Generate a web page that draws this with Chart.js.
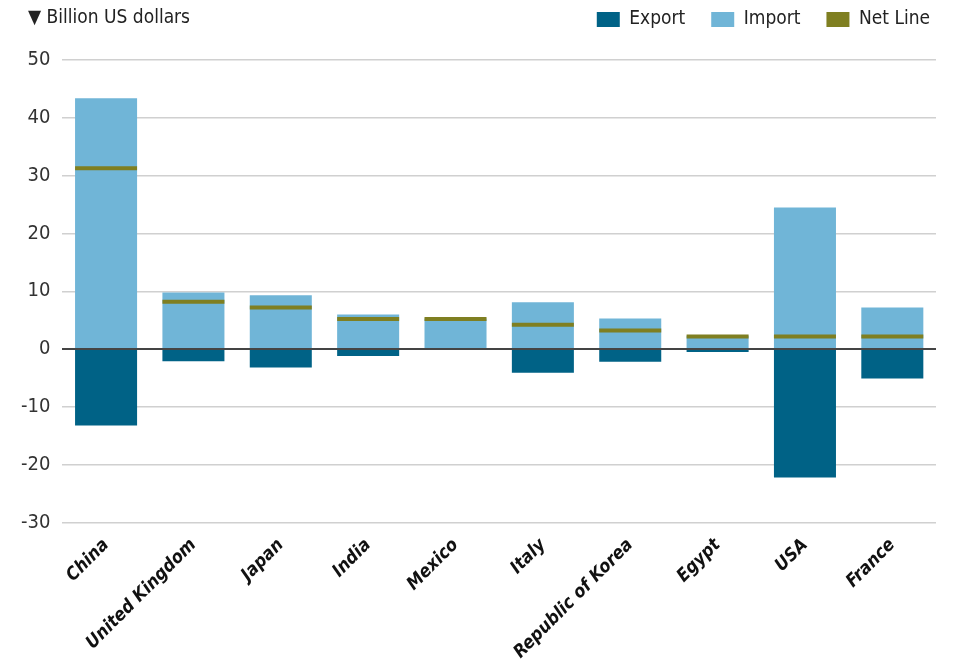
<!DOCTYPE html>
<html lang="en">
<head>
    <meta charset="UTF-8">
    <title>Trade by country</title>
    <script src="https://cdn.jsdelivr.net/npm/chart.js"></script>
    <style>
        body { margin: 0; background: #fff; }
        #wrap { width: 956px; height: 667px; }
    </style>
</head>
<body>
    <div id="wrap"><canvas id="chart"></canvas></div>
    <script>
        const countries = ["China", "United Kingdom", "Japan", "India", "Mexico", "Italy", "Republic of Korea", "Egypt", "USA", "France"];
        const exportVals = [-13.2, -2.1, -3.2, -1.2, 0, -4.1, -2.2, -0.5, -22.2, -5.1];
        const importVals = [43.4, 9.8, 9.3, 6.0, 5.3, 8.1, 5.3, 2.3, 24.5, 7.2];
        const netVals = [31.3, 8.2, 7.2, 5.2, 5.2, 4.2, 3.2, 2.2, 2.2, 2.2];

        const FONT = "'DejaVu Sans Condensed', 'Liberation Sans Narrow', sans-serif";

        // top-left unit label
        const unitLabel = {
            id: "unitLabel",
            afterDraw(chart) {
                const ctx = chart.ctx;
                ctx.save();
                ctx.fillStyle = "#222";
                ctx.font = "19px " + FONT;
                ctx.textBaseline = "middle";
                ctx.fillText("\u25BC Billion US dollars", 28, 18);
                ctx.restore();
            }
        };

        // extra room under the legend, and push legend a little further right
        const legendTweak = {
            id: "legendTweak",
            beforeInit(chart) {
                const origFit = chart.legend.fit;
                chart.legend.fit = function () {
                    origFit.bind(chart.legend)();
                    this.height += 21;
                };
            },
            afterLayout(chart) {
                chart.legend.left += 20;
                chart.legend.right += 20;
            }
        };

        new Chart(document.getElementById("chart"), {
            data: {
                labels: countries,
                datasets: [
                    {
                        type: "line",
                        label: "Net Line",
                        data: netVals,
                        stack: "net",
                        showLine: false,
                        pointStyle: "line",
                        pointRadius: 31,
                        pointHoverRadius: 31,
                        borderColor: "#7f7f21",
                        backgroundColor: "#7f7f21",
                        borderWidth: 4,
                        pointBorderWidth: 4
                    },
                    {
                        type: "bar",
                        label: "Export",
                        data: exportVals,
                        stack: "trade",
                        backgroundColor: "#006286",
                        barPercentage: 0.71,
                        categoryPercentage: 1
                    },
                    {
                        type: "bar",
                        label: "Import",
                        data: importVals,
                        stack: "trade",
                        backgroundColor: "#70b5d7",
                        barPercentage: 0.71,
                        categoryPercentage: 1
                    }
                ]
            },
            options: {
                responsive: true,
                maintainAspectRatio: false,
                animation: false,
                layout: { autoPadding: false, padding: { left: 9, right: 20, top: -16, bottom: 0 } },
                plugins: {
                    legend: {
                        position: "top",
                        align: "end",
                        labels: {
                            color: "#222",
                            font: { family: FONT, size: 19 },
                            boxWidth: 23,
                            boxHeight: 15,
                            padding: 26,
                            generateLabels(chart) {
                                const order = [1, 2, 0];
                                return order.map(i => {
                                    const ds = chart.data.datasets[i];
                                    return {
                                        text: ds.label,
                                        fillStyle: ds.backgroundColor,
                                        strokeStyle: ds.backgroundColor,
                                        lineWidth: 0,
                                        fontColor: "#222",
                                        datasetIndex: i
                                    };
                                });
                            }
                        }
                    },
                    tooltip: { enabled: false }
                },
                scales: {
                    x: {
                        stacked: true,
                        grid: { display: false },
                        border: { display: false },
                        ticks: {
                            color: "#111",
                            maxRotation: 45,
                            minRotation: 45,
                            padding: 4,
                            font: { family: FONT, size: 18, weight: "bold", style: "italic" }
                        }
                    },
                    y: {
                        stacked: true,
                        min: -30,
                        max: 50,
                        border: { display: false },
                        grid: {
                            color: ctx => ctx.tick.value === 0 ? "#444" : "#d0d0d0",
                            lineWidth: ctx => ctx.tick.value === 0 ? 2 : 1.5,
                            drawTicks: false
                        },
                        ticks: {
                            stepSize: 10,
                            padding: 12,
                            color: "#333",
                            font: { family: FONT, size: 20 }
                        }
                    }
                }
            },
            plugins: [unitLabel, legendTweak]
        });
    </script>
</body>
</html>
